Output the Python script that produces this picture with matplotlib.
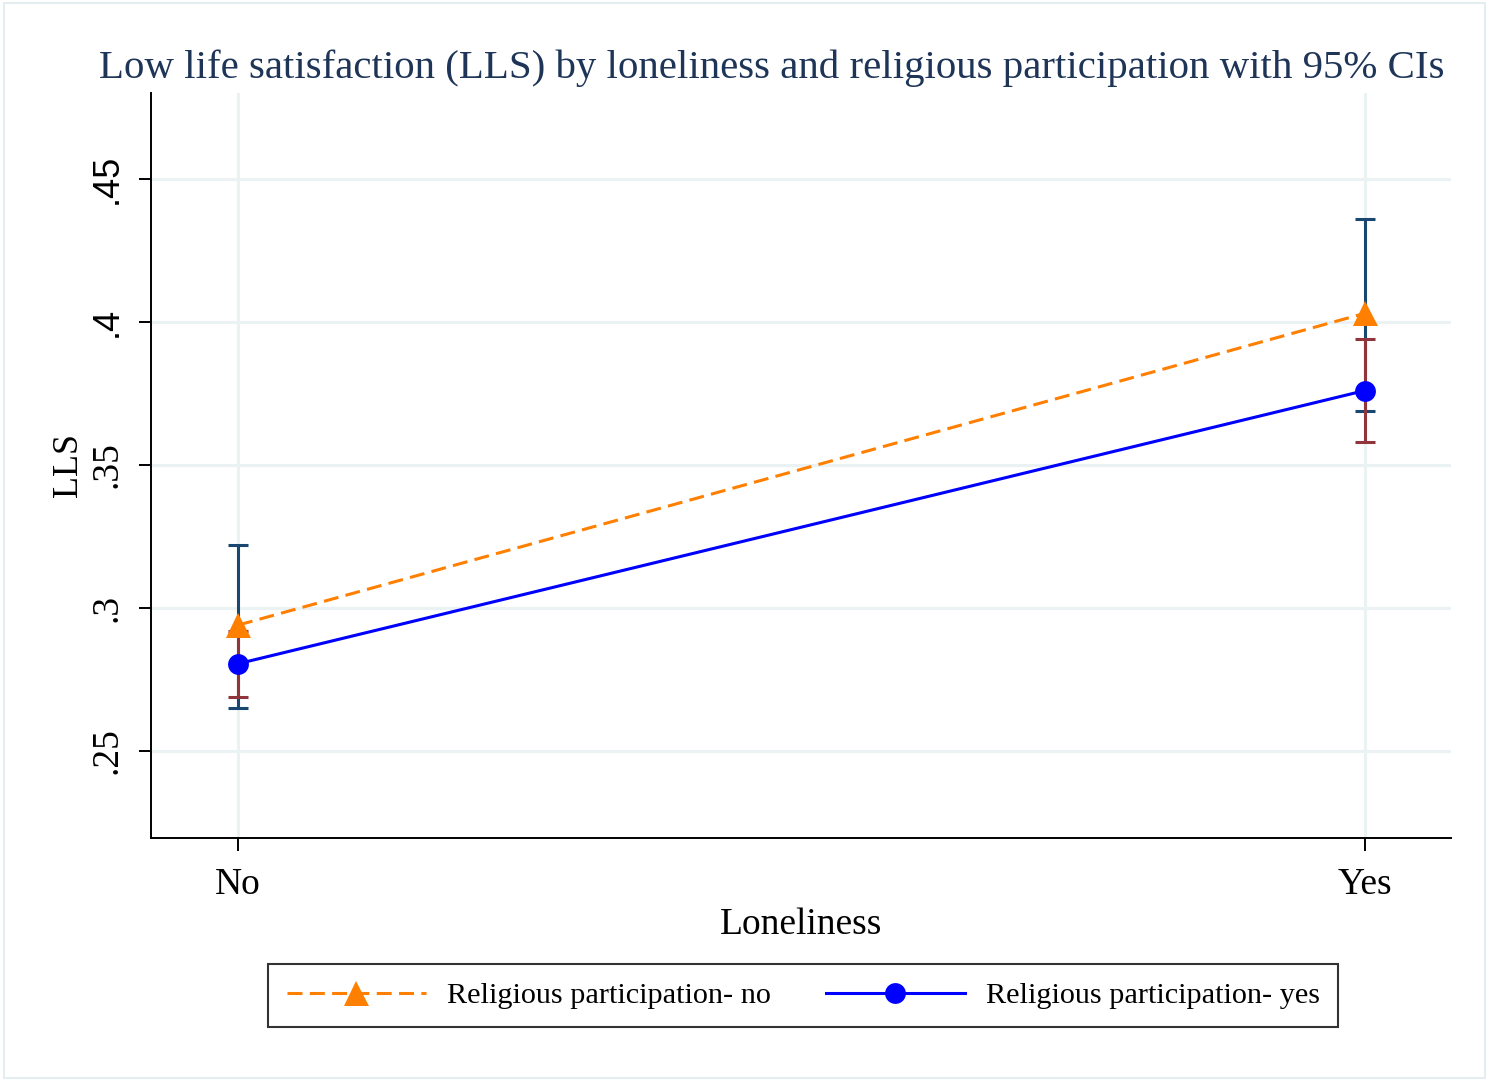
import matplotlib
matplotlib.use("Agg")
import matplotlib.pyplot as plt
from matplotlib.patches import Rectangle

categories = ["No", "Yes"]
x_pos = [0, 1]
relig_no_mean = [0.294, 0.403]
relig_no_lo = [0.265, 0.369]
relig_no_hi = [0.322, 0.436]
relig_yes_mean = [0.2805, 0.376]
relig_yes_lo = [0.269, 0.358]
relig_yes_hi = [0.292, 0.394]
yticks = [0.25, 0.3, 0.35, 0.4, 0.45]
yticklabels = [".25", ".3", ".35", ".4", ".45"]

plt.rcParams['font.family'] = ['Liberation Serif', 'DejaVu Serif']

fig = plt.figure(figsize=(14.89, 10.81), dpi=100)
fig.patches.append(Rectangle((0.003, 0.003), 0.994, 0.994, transform=fig.transFigure,
                             fill=False, edgecolor='#e4eef0', linewidth=1.5))
ax = fig.add_axes([0.1014, 0.2248, 0.8731, 0.6892])

grid_c = '#eaf2f3'
for y in yticks:
    ax.axhline(y, color=grid_c, lw=2.2, zorder=0)
for x in x_pos:
    ax.axvline(x, color=grid_c, lw=2.2, zorder=0)

navy = '#1a476f'
maroon = '#90353b'
ax.errorbar(x_pos, relig_no_mean,
            yerr=[[m - l for m, l in zip(relig_no_mean, relig_no_lo)],
                  [h - m for m, h in zip(relig_no_mean, relig_no_hi)]],
            fmt='none', ecolor=navy, elinewidth=2.2, capsize=7, capthick=2.2, zorder=2)
ax.errorbar(x_pos, relig_yes_mean,
            yerr=[[m - l for m, l in zip(relig_yes_mean, relig_yes_lo)],
                  [h - m for m, h in zip(relig_yes_mean, relig_yes_hi)]],
            fmt='none', ecolor=maroon, elinewidth=2.2, capsize=7, capthick=2.2, zorder=3)

l1, = ax.plot(x_pos, relig_no_mean, color='#ff7f00', ls=(0, (4.9, 2.4)), lw=2.2,
              marker='^', markersize=18, markeredgewidth=0, zorder=4,
              label='Religious participation- no')
l2, = ax.plot(x_pos, relig_yes_mean, color='#0000ff', ls='-', lw=2.2,
              marker='o', markersize=15, markeredgewidth=0, zorder=5,
              label='Religious participation- yes')

ax.set_xlim(-0.0772, 1.0763)
ax.set_ylim(0.2196, 0.48)
ax.set_xticks(x_pos)
ax.set_xticklabels(categories, fontsize=27)
ax.set_yticks(yticks)
ax.set_yticklabels(yticklabels, fontsize=27, rotation=90, va='center')
for lab in ax.get_yticklabels():
    if lab.get_text() in (".45", ".4"):
        lab.set_family(['Liberation Sans', 'DejaVu Sans'])
        lab.set_fontsize(26)
ax.tick_params(axis='both', direction='out', length=9, width=1.4, color='black')
ax.tick_params(axis='x', pad=12)
ax.tick_params(axis='y', pad=10)
for s in ['top', 'right']:
    ax.spines[s].set_visible(False)
for s in ['left', 'bottom']:
    ax.spines[s].set_linewidth(1.4)

ax.set_xlabel('Loneliness', fontsize=27, labelpad=4)
ax.set_ylabel('LLS', fontsize=26, labelpad=3)
fig.text(0.518, 0.937,
         'Low life satisfaction (LLS) by loneliness and religious participation with 95% CIs',
         ha='center', va='center', fontsize=29.4, color='#1e3558')

leg = fig.legend(handles=[l1, l2], loc='center', bbox_to_anchor=(0.5395, 0.079),
                 ncol=2, fontsize=21.8, frameon=True, fancybox=False, handlelength=4.6,
                 columnspacing=1.8, handletextpad=0.7, borderpad=0.6, edgecolor='black')
leg.get_frame().set_linewidth(1.5)

fig.savefig('out.png', dpi=100, facecolor='white')
